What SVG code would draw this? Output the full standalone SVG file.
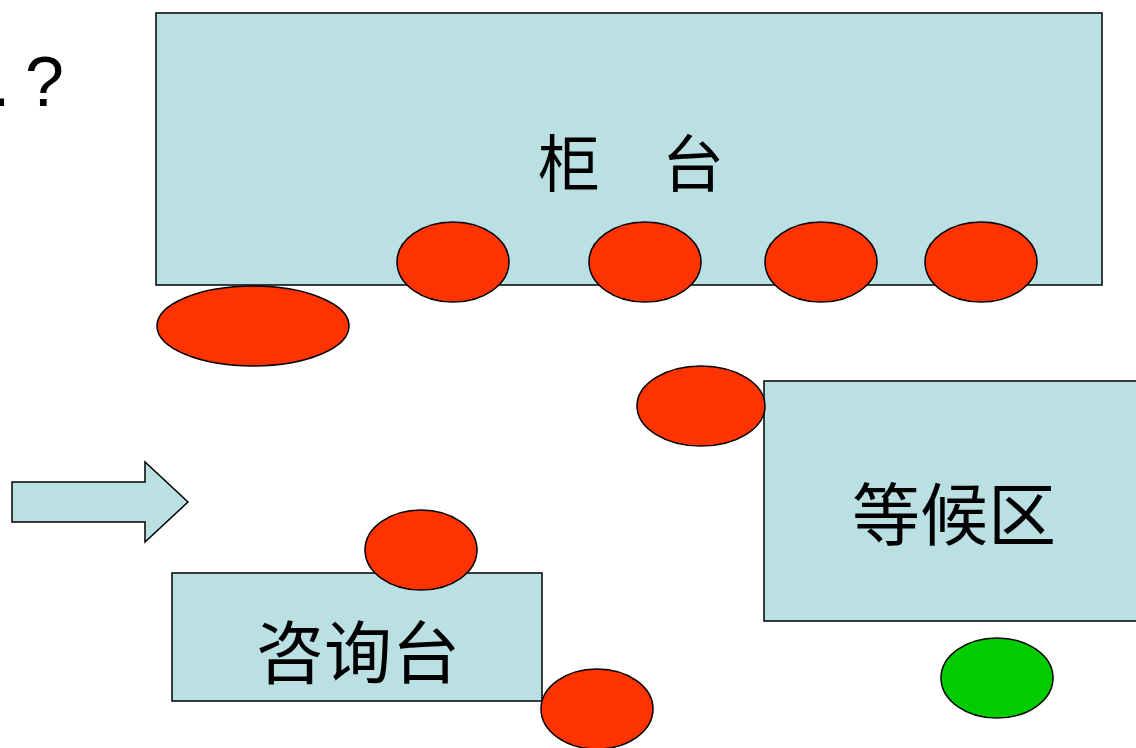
<svg xmlns="http://www.w3.org/2000/svg" width="1136" height="748" viewBox="0 0 1136 748">
<style>
.box{fill:#BBE0E3;stroke:#000;stroke-width:1.5}
.red{fill:#FF3300;stroke:#000;stroke-width:1.5}
.grn{fill:#00CC00;stroke:#000;stroke-width:1.5}
.lbl{font-family:"Noto Sans CJK SC","Noto Sans CJK TC",sans-serif;fill:#000}
.q{font-family:"Liberation Sans",Arial,sans-serif;font-size:70px;fill:#000}
</style>
<rect width="1136" height="748" fill="#fff"/>
<text class="q" x="-9" y="106" xml:space="preserve">.<tspan dx="-5"> ?</tspan></text>
<g id="counter">
<rect class="box" x="156" y="13" width="946" height="272"/>
<text class="lbl" x="538" y="187" font-size="62">柜　台</text>
</g>
<g id="waiting">
<rect class="box" x="764" y="381" width="380" height="240"/>
<text class="lbl" x="852" y="540" font-size="68">等候区</text>
</g>
<g id="consult">
<rect class="box" x="172" y="573" width="370" height="128"/>
<text class="lbl" x="256" y="678" font-size="68">咨询台</text>
</g>
<g id="arrow">
<polygon class="box" points="12,482 145,482 145,462 188,502 145,542 145,522 12,522"/>
</g>
<g id="people">
<ellipse class="red" cx="453" cy="262" rx="56" ry="40"/>
<ellipse class="red" cx="645" cy="262" rx="56" ry="40"/>
<ellipse class="red" cx="821" cy="262" rx="56" ry="40"/>
<ellipse class="red" cx="981" cy="262" rx="56" ry="40"/>
<ellipse class="red" cx="253" cy="326" rx="96" ry="40"/>
<ellipse class="red" cx="701" cy="406" rx="64" ry="40"/>
<ellipse class="red" cx="421" cy="550" rx="56" ry="40"/>
<ellipse class="red" cx="597" cy="709" rx="56" ry="40"/>
<ellipse class="grn" cx="997" cy="678" rx="56" ry="40"/>
</g>
<g id="connectors"></g>
</svg>
